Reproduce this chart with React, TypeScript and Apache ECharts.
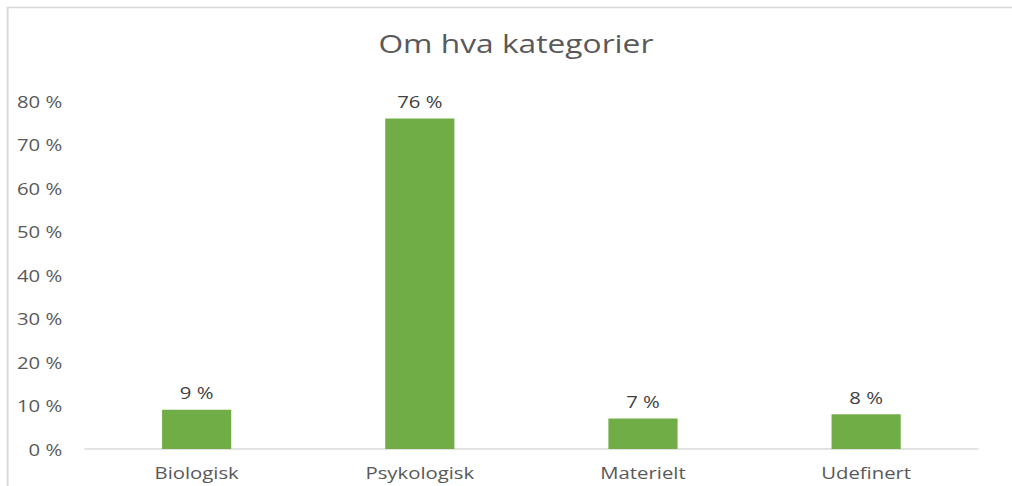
import React, { useEffect, useRef } from "react";
import * as echarts from "echarts";

const categories = ["Biologisk", "Psykologisk", "Materielt", "Udefinert"];
const values = [9, 76, 7, 8];
const titleText = "Om hva kategorier";

const FULL_W = 1012;
const H = 486;
const SX = 1.27; // the reference is horizontally stretched
const INNER_W = Math.round(FULL_W / SX);

export default function App() {
  const ref = useRef<HTMLDivElement>(null);
  useEffect(() => {
    document.body.style.margin = "0";
    const chart = echarts.init(ref.current!, null, { renderer: "svg" });
    const font = "'Open Sans', sans-serif";
    chart.setOption({
      animation: false,
      backgroundColor: "#ffffff",
      title: {
        text: titleText,
        left: 293,
        top: 25,
        textStyle: { fontFamily: font, fontSize: 25, fontWeight: "normal", color: "#595959" },
      },
      graphic: [
        {
          type: "rect",
          shape: { x: 6, y: 7.5, width: 1100, height: 600 },
          style: { fill: "none", stroke: "#d9d9d9", lineWidth: 1.5 },
          silent: true,
          z: -1,
        },
      ],
      grid: { left: 67, right: 27, top: 101, bottom: 37 },
      xAxis: {
        type: "category",
        data: categories,
        axisLine: { lineStyle: { color: "#d9d9d9", width: 1.5 } },
        axisTick: { show: false },
        axisLabel: { fontFamily: font, fontSize: 16, color: "#595959", margin: 15 },
      },
      yAxis: {
        type: "value",
        min: 0,
        max: 80,
        interval: 10,
        axisLine: { show: false },
        axisTick: { show: false },
        splitLine: { show: false },
        axisLabel: { fontFamily: font, fontSize: 16, color: "#595959", margin: 18, formatter: "{value} %" },
      },
      series: [
        {
          type: "bar",
          data: values,
          barWidth: "31%",
          itemStyle: { color: "#70ad47" },
          label: {
            show: true,
            position: "top",
            distance: 9,
            formatter: "{c} %",
            fontFamily: font,
            fontSize: 16,
            color: "#404040",
          },
        },
      ],
    });
    return () => chart.dispose();
  }, []);
  return (
    <div style={{ width: FULL_W, height: H, overflow: "hidden", background: "#fff" }}>
      <div
        ref={ref}
        style={{ width: INNER_W, height: H, transform: `scaleX(${FULL_W / INNER_W})`, transformOrigin: "0 0" }}
      />
    </div>
  );
}
